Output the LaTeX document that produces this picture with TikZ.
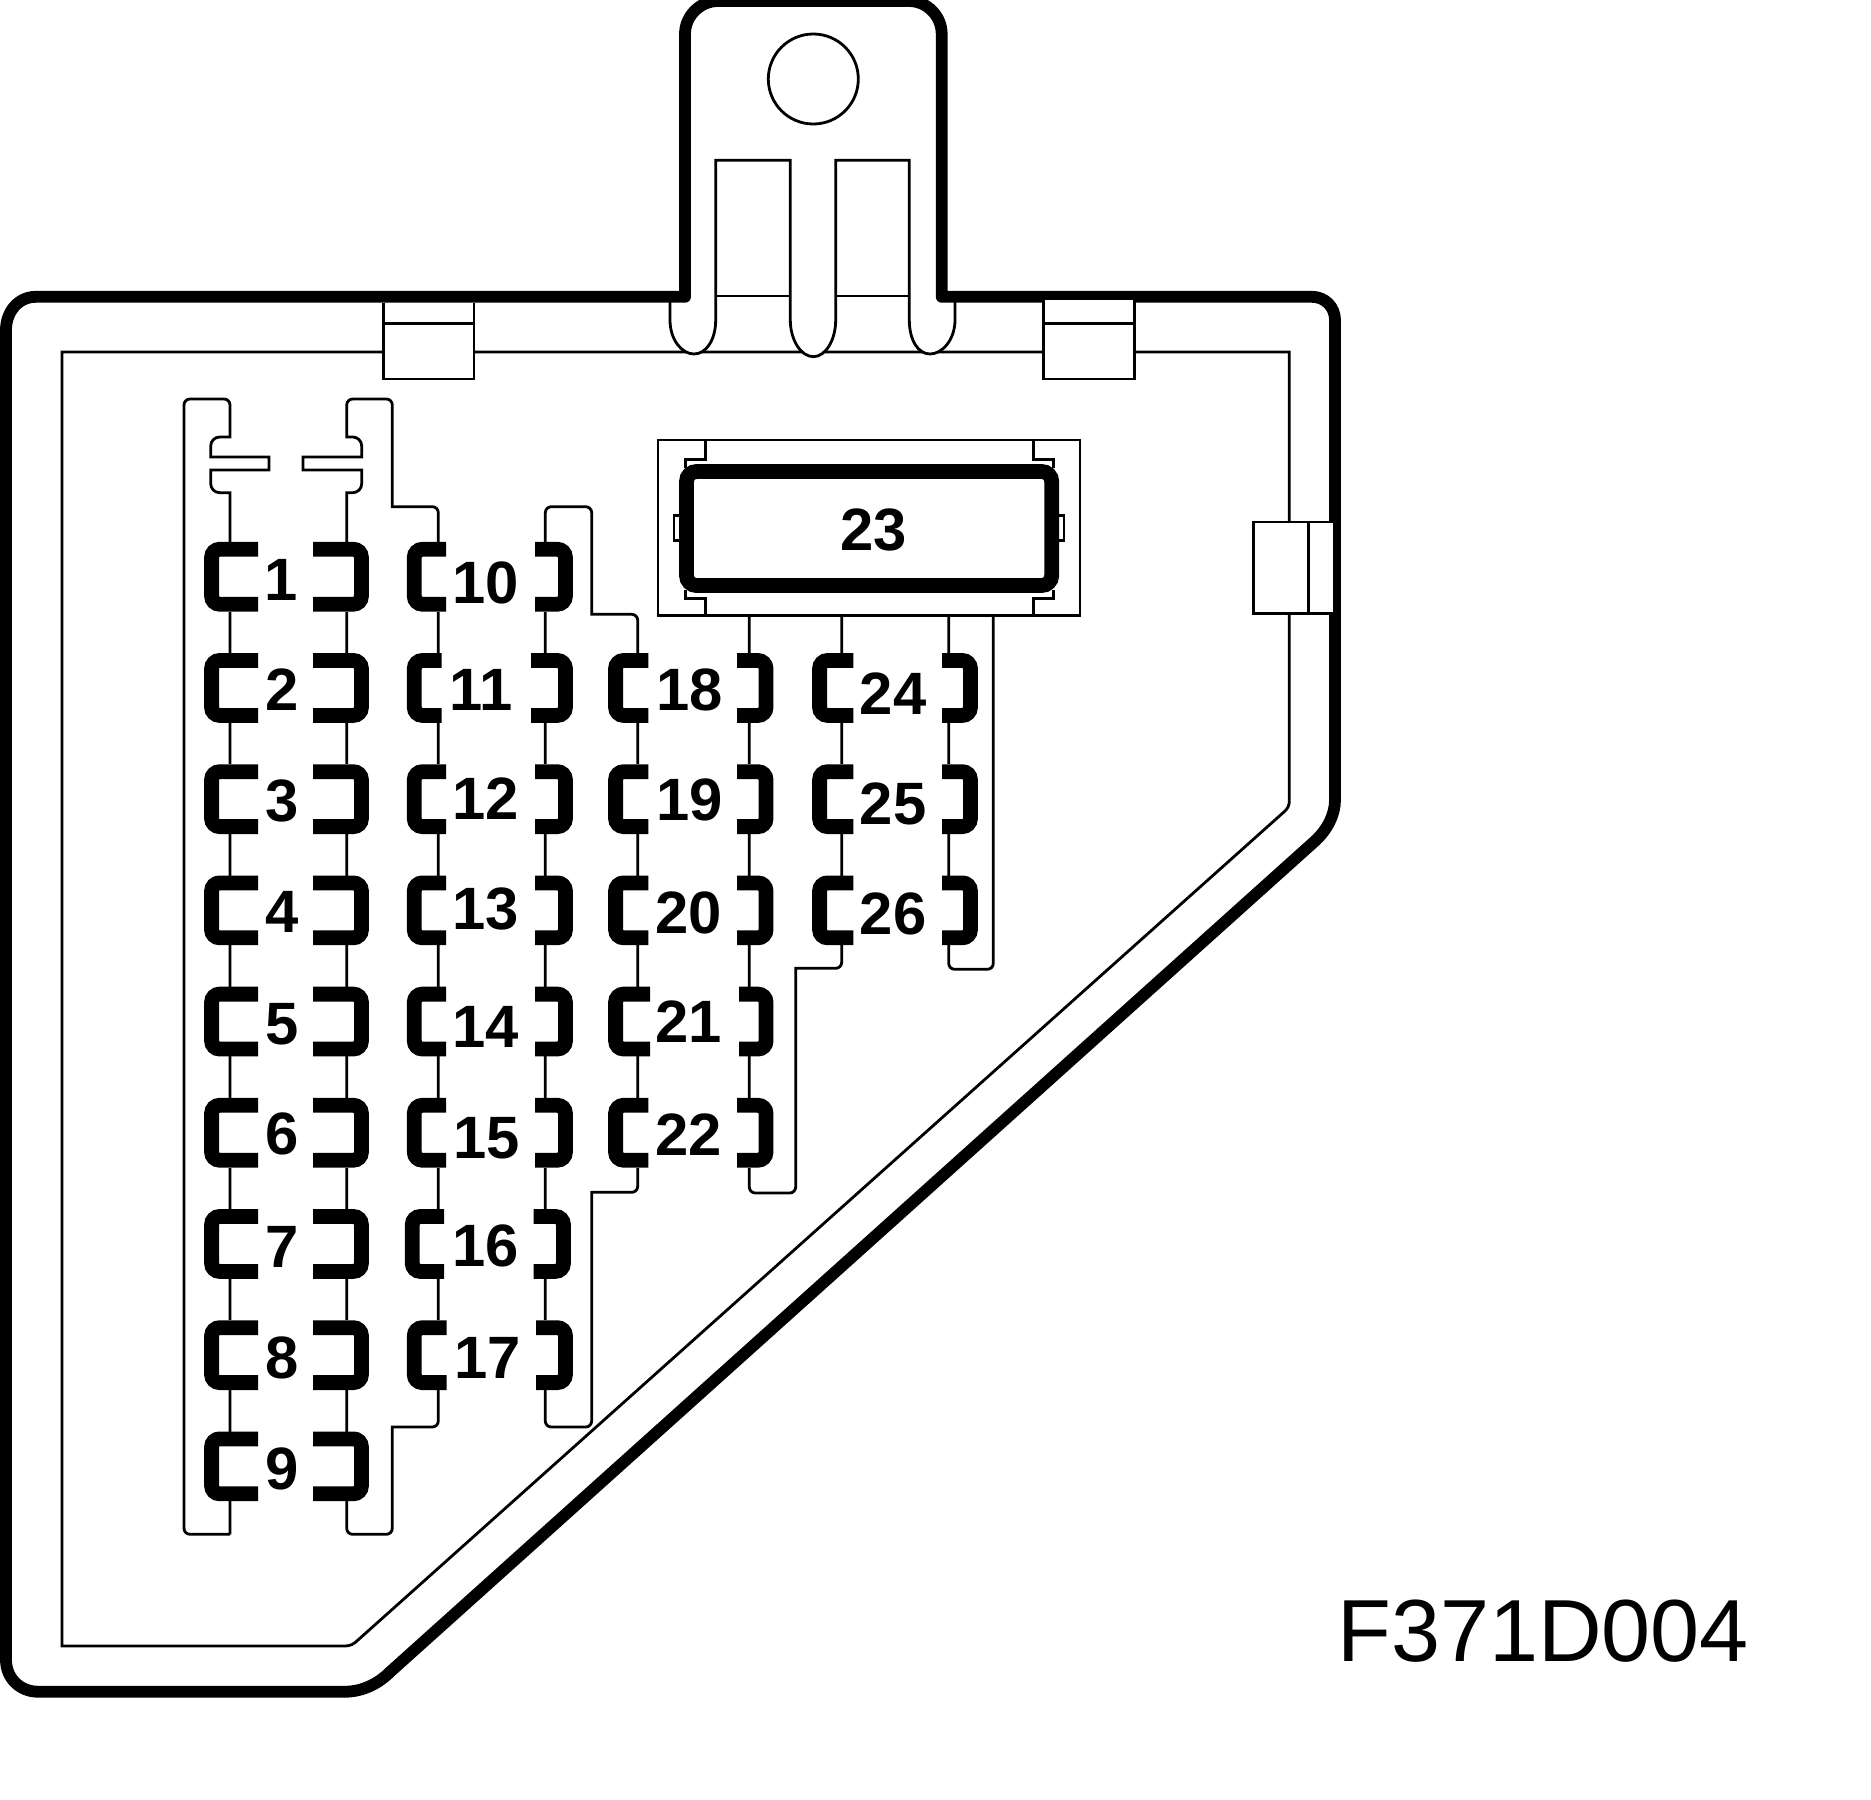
\documentclass[tikz,border=0pt]{standalone}
\usepackage{fontspec}
\setmainfont{Liberation Sans}
\tikzset{
  thin line/.style={line width=2.8bp,line join=miter},
  thick line/.style={line width=11.8bp,line join=round},
  fuse stroke/.style={line width=14.8bp,rounded corners=8bp,line cap=butt},
  fuse label/.style={inner sep=0pt,anchor=base,font=\bfseries\fontsize{60}{60}\selectfont},
}
% name, label, top, left outer, left end, right start, right outer, text x, baseline
\newcommand\fusepair[9]{%
  \fill[white] (#4,#3) rectangle (#7,#3+69.5);
  \draw[fuse stroke] (#5,#3+7.3) -- (#4+7.3,#3+7.3) -- (#4+7.3,#3+62.2) -- (#5,#3+62.2);
  \draw[fuse stroke] (#6,#3+7.3) -- (#7-7.3,#3+7.3) -- (#7-7.3,#3+62.2) -- (#6,#3+62.2);
  \node[fuse label] (#1) at (#8,#9) {#2};
}
\newcommand\rowA{542}\newcommand\rowB{653.2}\newcommand\rowC{764.4}
\newcommand\rowD{875.6}\newcommand\rowE{986.8}\newcommand\rowF{1098}
\newcommand\rowG{1209.2}\newcommand\rowH{1320.4}\newcommand\rowI{1431.6}
\begin{document}
\begin{tikzpicture}[x=1bp,y=-1bp]
\useasboundingbox (0,0) rectangle (1871,1800);
\fill[white] (0,0) rectangle (1871,1800);
% inner frame
\draw[thin line] (62,352) -- (1289.3,352) -- (1289.3,801)
  .. controls (1289.3,805) and (1288,808) .. (1285,811)
  -- (358,1640) .. controls (354,1644) and (350,1646) .. (345,1646)
  -- (62,1646) -- cycle;
% strips behind fuses
\draw[thin line,rounded corners=6bp] (230,1534.3) -- (184,1534.3) -- (184,399) -- (230,399) [sharp corners] -- (230,437)
  [rounded corners=9bp] -- (210.7,437) [sharp corners] -- (210.7,457) -- (269,457) -- (269,470) -- (210.7,470)
  [rounded corners=9bp] -- (210.7,492.7) [sharp corners] -- (230,492.7) -- (230,1534.3);
\draw[thin line,rounded corners=6bp] (438.3,800) -- (438.3,1427) [sharp corners] -- (392.3,1427) [rounded corners=6bp] -- (392.3,1534.3) -- (346.7,1534.3)
  [sharp corners] -- (346.7,492.7) [rounded corners=9bp] -- (361.7,492.7) [sharp corners] -- (361.7,470) -- (303,470) -- (303,457) -- (361.7,457)
  [rounded corners=9bp] -- (361.7,437) [sharp corners] -- (346.7,437) [rounded corners=6bp] -- (346.7,399) -- (392.3,399)
  [sharp corners] -- (392.3,506.7) [rounded corners=6bp] -- (438.3,506.7) -- (438.3,800);
\draw[thin line,rounded corners=6bp] (545.3,1000) -- (545.3,1427) -- (591.7,1427) [sharp corners] -- (591.7,1192.3)
  [rounded corners=6bp] -- (637.7,1192.3) -- (637.7,614.3) [sharp corners] -- (591.7,614.3) [rounded corners=6bp] -- (591.7,506.7) -- (545.3,506.7) -- (545.3,1000);
\draw[thin line,rounded corners=6bp] (749.3,616) -- (749.3,1193) -- (795.7,1193) [sharp corners] -- (795.7,968.3) [rounded corners=6bp] -- (841.7,968.3) -- (841.7,616);
\draw[thin line,rounded corners=6bp] (948.7,616) -- (948.7,969.3) -- (993.3,969.3) -- (993.3,616);
% hanger slots and loops
\draw[thin line,fill=white] (670,300) -- (670,320) .. controls (670,340) and (682,354) .. (694,354)
  .. controls (706,354) and (715.7,340) .. (715.7,320) -- (715.7,160.3) -- (790.3,160.3) -- (790.3,320)
  .. controls (790.3,340) and (801,356.7) .. (813.3,356.7)
  .. controls (825.6,356.7) and (835.7,340) .. (835.7,320) -- (835.7,160.3) -- (909.3,160.3) -- (909.3,320)
  .. controls (909.3,340) and (918,354) .. (930,354)
  .. controls (942,354) and (955,340) .. (955,320) -- (955,300);
\draw[thin line] (715.7,296) -- (790.3,296);
\draw[thin line] (835.7,296) -- (909.3,296);
\node[draw,thin line,circle,minimum size=90bp,inner sep=0pt] (hole) at (813.3,79) {};
% outer shell
\draw[thick line] (6,330) .. controls (6,312) and (18,296.8) .. (36,296.8)
  -- (685,296.8) -- (685,34) .. controls (685,16) and (700,1) .. (718,1)
  -- (909,1) .. controls (927,1) and (941.7,16) .. (941.7,34)
  -- (941.7,296.8) -- (1312,296.8) .. controls (1325,296.8) and (1335,307) .. (1335,320)
  -- (1335,800) .. controls (1335,815) and (1327,830) .. (1315,841)
  -- (390,1672) .. controls (378,1684) and (362,1691.7) .. (345,1691.7)
  -- (38,1691.7) .. controls (20,1691.7) and (6,1678) .. (6,1660) -- cycle;
% clips
\draw[thin line,fill=white] (383.3,303) -- (383.3,379) -- (474,379) -- (474,303);
\draw[thin line] (383.3,323.7) -- (474,323.7);
\draw[thin line,fill=white] (1043.3,298.3) rectangle (1134.7,379);
\draw[thin line] (1043.3,323.7) -- (1134.7,323.7);
\draw[thin line,fill=white] (1253.3,522) rectangle (1334,613.3);
\draw[thin line] (1308.3,522) -- (1308.3,613.3);
% fuse holder 23
\draw[thin line,fill=white] (658,440) rectangle (1080,615.7);
\draw[thin line] (705.7,440) -- (705.7,459.3) -- (685.7,459.3) -- (685.7,468);
\draw[thin line] (1033.3,440) -- (1033.3,459.3) -- (1053.3,459.3) -- (1053.3,468);
\draw[thin line] (705.7,615.7) -- (705.7,598.3) -- (685.7,598.3) -- (685.7,590);
\draw[thin line] (1033.3,615.7) -- (1033.3,598.3) -- (1053.3,598.3) -- (1053.3,590);
\draw[thin line] (679,515.7) -- (674,515.7) -- (674,540.7) -- (679,540.7);
\draw[thin line] (1059,515.7) -- (1064,515.7) -- (1064,540.7) -- (1059,540.7);
\draw[line width=14.8bp,rounded corners=10bp,fill=white] (686.5,471.5) rectangle (1051.7,585.5);
\node[fuse label] (f23) at (873.5,550) {23};
% fuses
\fusepair{f1}{1}{\rowA}{204.3}{258}{313}{368.7}{281}{600}
\fusepair{f2}{2}{\rowB}{204.3}{258}{313}{368.7}{282}{710}
\fusepair{f3}{3}{\rowC}{204.3}{258}{313}{368.7}{282}{821}
\fusepair{f4}{4}{\rowD}{204.3}{258}{313}{368.7}{282}{932}
\fusepair{f5}{5}{\rowE}{204.3}{258}{313}{368.7}{282}{1044}
\fusepair{f6}{6}{\rowF}{204.3}{258}{313}{368.7}{282}{1154}
\fusepair{f7}{7}{\rowG}{204.3}{258}{313}{368.7}{282}{1267}
\fusepair{f8}{8}{\rowH}{204.3}{258}{313}{368.7}{282}{1378}
\fusepair{f9}{9}{\rowI}{204.3}{258}{313}{368.7}{282}{1489}
\fusepair{f10}{10}{\rowA}{407}{446}{535}{572.7}{486}{603}
\fusepair{f11}{11}{\rowB}{407}{441.7}{531}{572.7}{481.5}{710}
\fusepair{f12}{12}{\rowC}{407}{446}{535}{572.7}{486}{819}
\fusepair{f13}{13}{\rowD}{407}{446}{535}{572.7}{486}{929}
\fusepair{f14}{14}{\rowE}{407}{446}{535}{572.7}{486}{1047}
\fusepair{f15}{15}{\rowF}{407}{446}{535}{572.7}{487}{1158}
\fusepair{f16}{16}{\rowG}{405}{444}{533.6}{570.7}{486}{1266}
\fusepair{f17}{17}{\rowH}{407}{446.7}{536}{572.7}{488}{1378}
\fusepair{f18}{18}{\rowB}{608.3}{648.3}{737}{773.3}{690}{710}
\fusepair{f19}{19}{\rowC}{608.3}{648.3}{737}{773.3}{690}{820}
\fusepair{f20}{20}{\rowD}{608.3}{648.3}{737}{773.3}{689}{933}
\fusepair{f21}{21}{\rowE}{608.3}{650}{739}{773.3}{689}{1042}
\fusepair{f22}{22}{\rowF}{608.3}{648.3}{737}{773.3}{689}{1155}
\fusepair{f24}{24}{\rowB}{812.3}{853.3}{942}{977.7}{893}{714}
\fusepair{f25}{25}{\rowC}{812.3}{853.3}{942}{977.7}{893}{824}
\fusepair{f26}{26}{\rowD}{812.3}{853.3}{942}{977.7}{893}{934}
\node[inner sep=0pt,anchor=base west,font=\fontsize{88.5}{88}\selectfont] (code) at (1337,1661.5) {F371D004};
\end{tikzpicture}
\end{document}
